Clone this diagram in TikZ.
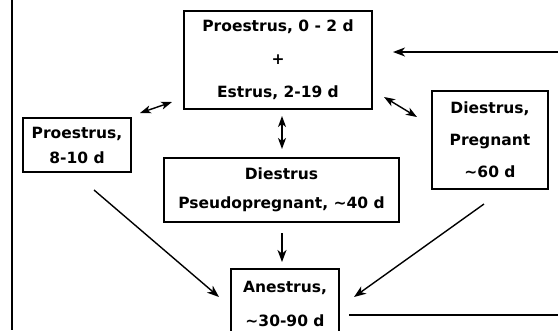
\documentclass[tikz,border=0pt]{standalone}
\usepackage{fontspec}
\setmainfont{DejaVu Sans}
\usetikzlibrary{
  arrows.meta,
}

\tikzset{
  stage/.style={
    draw,
    line width=2pt,
    align=center,
    inner sep=0pt,
    font=\bfseries\fontsize{15.5}{18}\selectfont,
  },
  cyc/.style={
    line width=1.4pt,
    -{Stealth[length=12pt,width=9pt,inset=3.5pt]},
  },
  dbl/.style={
    cyc,
    {Stealth[length=11pt,width=8pt,inset=3pt]}-{Stealth[length=11pt,width=8pt,inset=3pt]},
  },
}

\begin{document}
\begin{tikzpicture}[x=1pt,y=-1pt]
\useasboundingbox (0,0) rectangle (558,330);

\node[stage,minimum width=188pt,minimum height=98pt] (top) at (278,60)
  {Proestrus, 0 - 2 d\\[15pt]+\\[15pt]Estrus, 2-19 d};
\node[stage,minimum width=108pt,minimum height=54pt] (pro) at (77,145)
  {Proestrus,\\[7pt]8-10 d};
\node[stage,minimum width=235pt,minimum height=64pt] (pseudo) at (281.5,190)
  {Diestrus\\[11pt]Pseudopregnant, \textasciitilde40 d};
\node[stage,minimum width=116pt,minimum height=98pt] (preg) at (490,140)
  {Diestrus,\\[14pt]Pregnant\\[14pt]\textasciitilde60 d};
\node[stage,minimum width=108pt,minimum height=70pt] (anes) at (285,304)
  {Anestrus,\\[16pt]\textasciitilde30-90 d};

% cycle back to the start
\coordinate (upright) at (558,52);
\coordinate (lowright) at (558,315);

\draw[dbl] ([shift={(8,-4)}]pro.north east) -- ([shift={(-11,-8)}]top.south west);
\draw[dbl] ([shift={(11,-13)}]top.south east) -- ([shift={(-14,27)}]preg.north west);
\draw[dbl] ([shift={(4,6)}]top.south) -- ([shift={(0.5,-8)}]pseudo.north);
\draw[cyc] ([shift={(0.5,10)}]pseudo.south) -- ([shift={(-3,-6)}]anes.north);
\draw[cyc] ([shift={(17,17)}]pro.south) -- ([shift={(-11,-7)}]anes.west);
\draw[cyc] ([shift={(-6,14)}]preg.south) -- ([shift={(14,-7)}]anes.east);
\draw[cyc] (upright) -- ([shift={(20,-8)}]top.east);
\draw[line width=2pt] ([shift={(9,11)}]anes.east) -- (lowright);

\draw[line width=1.4pt] (12,0) -- (12,330);
\end{tikzpicture}
\end{document}
